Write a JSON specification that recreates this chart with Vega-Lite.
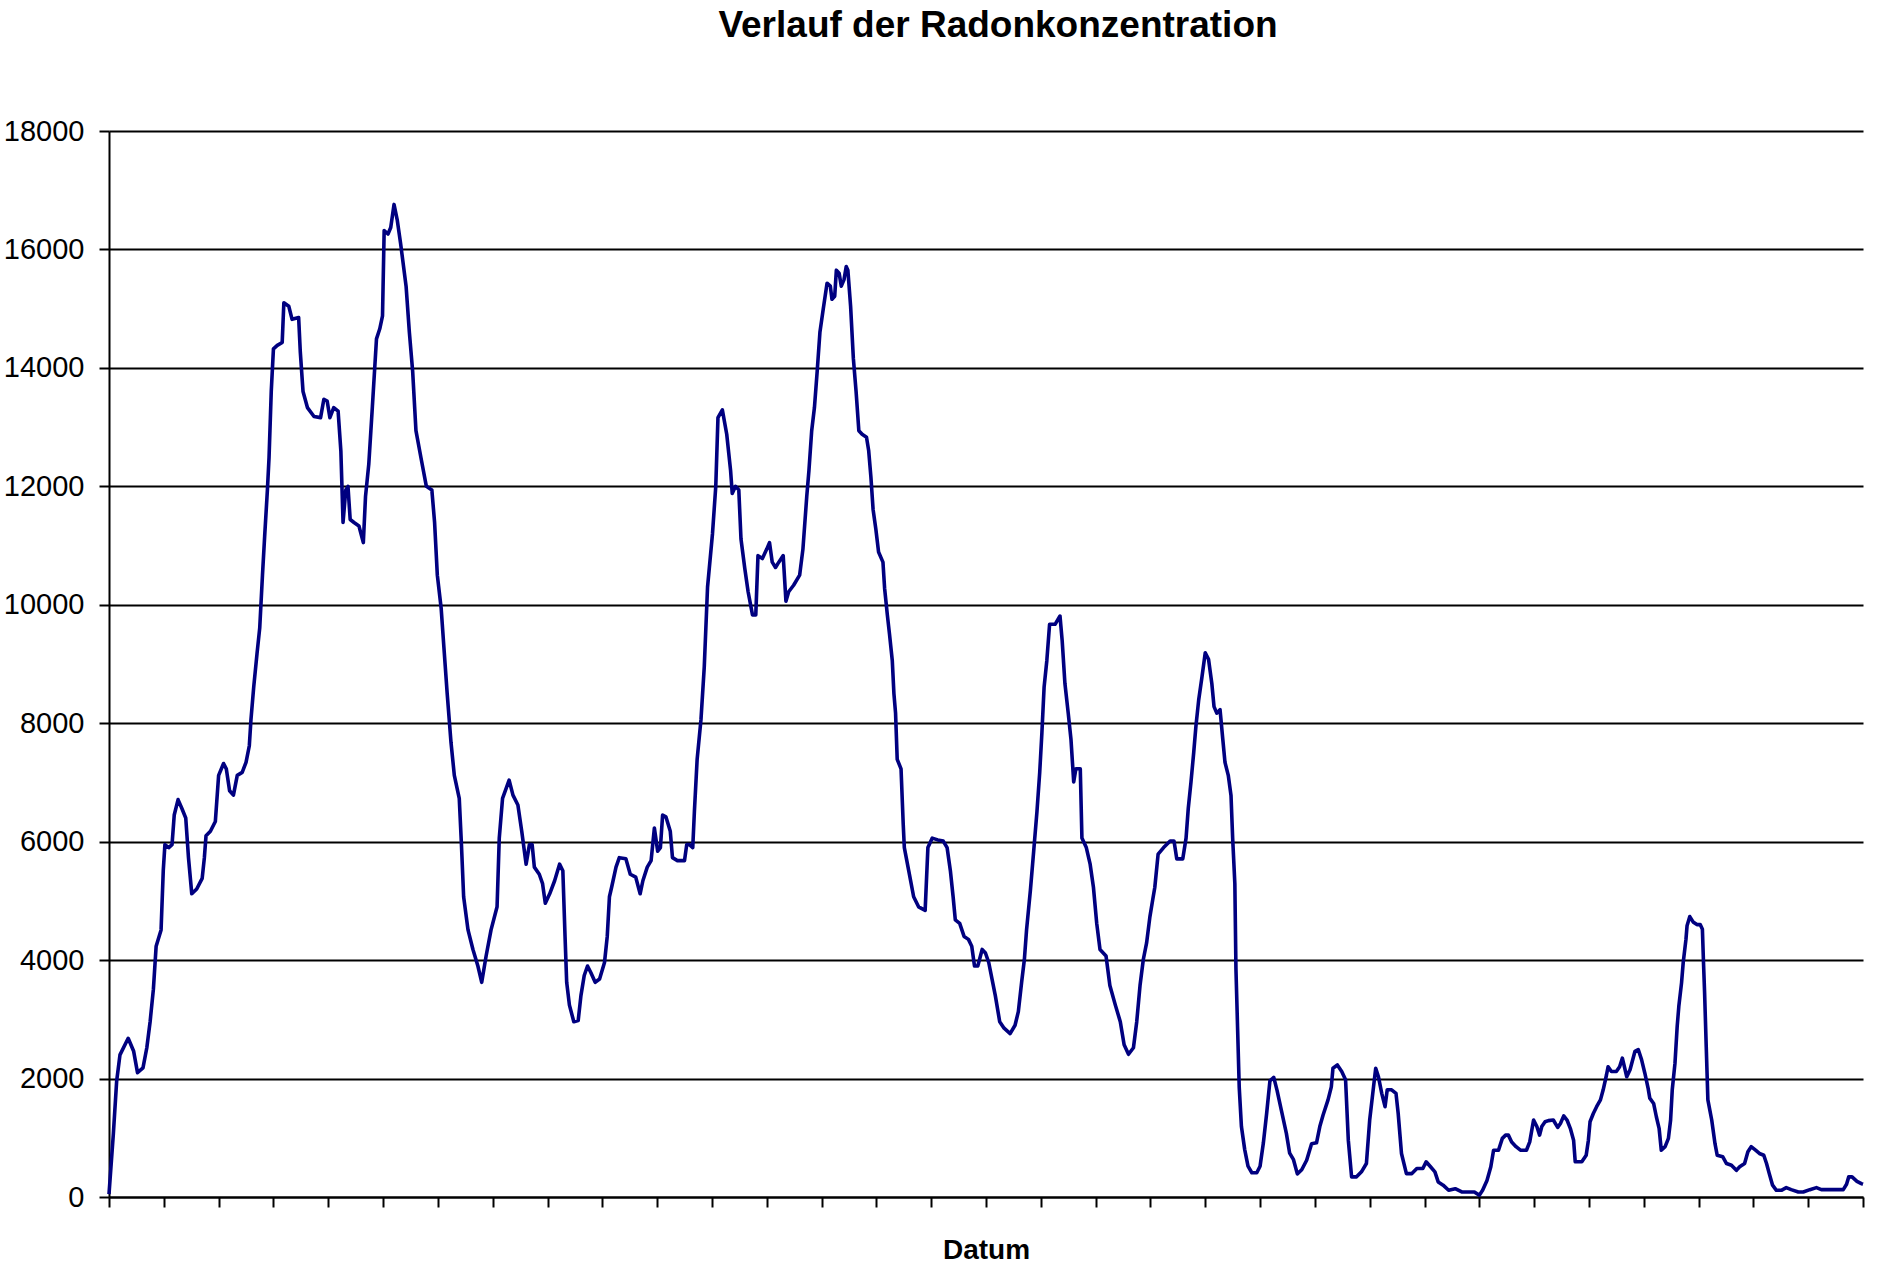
{
  "$schema": "https://vega.github.io/schema/vega-lite/v6.json",
  "width": 1754,
  "height": 1066,
  "autosize": {"type": "none"},
  "padding": {"left": 109, "top": 131, "right": 19, "bottom": 73},
  "background": "white",
  "title": {
    "text": "Verlauf der Radonkonzentration",
    "font": "Liberation Sans",
    "fontSize": 37,
    "fontWeight": "bold",
    "color": "black",
    "anchor": "middle",
    "baseline": "alphabetic",
    "offset": 43,
    "dx": 12
  },
  "config": {"view": {"stroke": null}, "font": "Liberation Sans"},
  "data": {"values": [
    {"tag": 0, "radon": 50}, {"tag": 0.08, "radon": 1075}, {"tag": 0.14, "radon": 1960}, {"tag": 0.2, "radon": 2400},
    {"tag": 0.35, "radon": 2680}, {"tag": 0.45, "radon": 2460}, {"tag": 0.52, "radon": 2100}, {"tag": 0.62, "radon": 2180},
    {"tag": 0.69, "radon": 2520}, {"tag": 0.75, "radon": 2960}, {"tag": 0.81, "radon": 3510}, {"tag": 0.86, "radon": 4235},
    {"tag": 0.95, "radon": 4510}, {"tag": 0.99, "radon": 5510}, {"tag": 1.02, "radon": 5950}, {"tag": 1.09, "radon": 5900},
    {"tag": 1.15, "radon": 5950}, {"tag": 1.19, "radon": 6450}, {"tag": 1.26, "radon": 6710}, {"tag": 1.33, "radon": 6560},
    {"tag": 1.4, "radon": 6400}, {"tag": 1.45, "radon": 5730}, {"tag": 1.51, "radon": 5120}, {"tag": 1.6, "radon": 5200},
    {"tag": 1.7, "radon": 5380}, {"tag": 1.74, "radon": 5730}, {"tag": 1.77, "radon": 6100}, {"tag": 1.85, "radon": 6175},
    {"tag": 1.94, "radon": 6340}, {"tag": 2.0, "radon": 7120}, {"tag": 2.09, "radon": 7320}, {"tag": 2.14, "radon": 7230},
    {"tag": 2.2, "radon": 6860}, {"tag": 2.27, "radon": 6785}, {"tag": 2.34, "radon": 7120}, {"tag": 2.43, "radon": 7170},
    {"tag": 2.5, "radon": 7340}, {"tag": 2.56, "radon": 7620}, {"tag": 2.59, "radon": 8060}, {"tag": 2.64, "radon": 8610},
    {"tag": 2.7, "radon": 9170}, {"tag": 2.75, "radon": 9610}, {"tag": 2.8, "radon": 10500}, {"tag": 2.84, "radon": 11160},
    {"tag": 2.89, "radon": 11940}, {"tag": 2.92, "radon": 12490}, {"tag": 2.96, "radon": 13600}, {"tag": 3.0, "radon": 14320},
    {"tag": 3.07, "radon": 14380}, {"tag": 3.16, "radon": 14430}, {"tag": 3.19, "radon": 15100}, {"tag": 3.28, "radon": 15040},
    {"tag": 3.34, "radon": 14820}, {"tag": 3.46, "radon": 14850}, {"tag": 3.49, "radon": 14270}, {"tag": 3.54, "radon": 13600},
    {"tag": 3.62, "radon": 13330}, {"tag": 3.74, "radon": 13180}, {"tag": 3.86, "radon": 13160}, {"tag": 3.92, "radon": 13470},
    {"tag": 3.98, "radon": 13440}, {"tag": 4.03, "radon": 13160}, {"tag": 4.1, "radon": 13330}, {"tag": 4.18, "radon": 13270},
    {"tag": 4.23, "radon": 12600}, {"tag": 4.27, "radon": 11390}, {"tag": 4.32, "radon": 11940}, {"tag": 4.36, "radon": 12000},
    {"tag": 4.4, "radon": 11440}, {"tag": 4.47, "radon": 11390}, {"tag": 4.56, "radon": 11330}, {"tag": 4.64, "radon": 11050},
    {"tag": 4.68, "radon": 11830}, {"tag": 4.74, "radon": 12380}, {"tag": 4.8, "radon": 13270}, {"tag": 4.88, "radon": 14490},
    {"tag": 4.94, "radon": 14660}, {"tag": 4.99, "radon": 14880}, {"tag": 5.02, "radon": 16320}, {"tag": 5.09, "radon": 16260},
    {"tag": 5.14, "radon": 16370}, {"tag": 5.2, "radon": 16760}, {"tag": 5.26, "radon": 16490}, {"tag": 5.32, "radon": 16100},
    {"tag": 5.42, "radon": 15380}, {"tag": 5.48, "radon": 14600}, {"tag": 5.54, "radon": 13940}, {"tag": 5.6, "radon": 12940},
    {"tag": 5.7, "radon": 12440}, {"tag": 5.79, "radon": 12000}, {"tag": 5.89, "radon": 11940}, {"tag": 5.94, "radon": 11390},
    {"tag": 5.99, "radon": 10500}, {"tag": 6.06, "radon": 9940}, {"tag": 6.11, "radon": 9280}, {"tag": 6.17, "radon": 8500},
    {"tag": 6.24, "radon": 7670}, {"tag": 6.3, "radon": 7120}, {"tag": 6.39, "radon": 6730}, {"tag": 6.43, "radon": 5950},
    {"tag": 6.47, "radon": 5070}, {"tag": 6.55, "radon": 4510}, {"tag": 6.64, "radon": 4180}, {"tag": 6.73, "radon": 3900},
    {"tag": 6.8, "radon": 3625}, {"tag": 6.88, "radon": 4070}, {"tag": 6.97, "radon": 4510}, {"tag": 7.08, "radon": 4900},
    {"tag": 7.12, "radon": 6060}, {"tag": 7.18, "radon": 6730}, {"tag": 7.3, "radon": 7040}, {"tag": 7.37, "radon": 6785},
    {"tag": 7.46, "radon": 6620}, {"tag": 7.53, "radon": 6175}, {"tag": 7.61, "radon": 5620}, {"tag": 7.67, "radon": 5950},
    {"tag": 7.72, "radon": 5950}, {"tag": 7.76, "radon": 5570}, {"tag": 7.85, "radon": 5450}, {"tag": 7.91, "radon": 5290},
    {"tag": 7.96, "radon": 4960}, {"tag": 8.04, "radon": 5120}, {"tag": 8.13, "radon": 5340}, {"tag": 8.22, "radon": 5620},
    {"tag": 8.28, "radon": 5510}, {"tag": 8.32, "radon": 4400}, {"tag": 8.35, "radon": 3625}, {"tag": 8.4, "radon": 3240},
    {"tag": 8.48, "radon": 2960}, {"tag": 8.56, "radon": 2980}, {"tag": 8.61, "radon": 3400}, {"tag": 8.67, "radon": 3740},
    {"tag": 8.73, "radon": 3900}, {"tag": 8.79, "radon": 3790}, {"tag": 8.87, "radon": 3625}, {"tag": 8.95, "radon": 3680},
    {"tag": 9.04, "radon": 3960}, {"tag": 9.09, "radon": 4400}, {"tag": 9.13, "radon": 5070}, {"tag": 9.17, "radon": 5230},
    {"tag": 9.25, "radon": 5570}, {"tag": 9.31, "radon": 5730}, {"tag": 9.43, "radon": 5710}, {"tag": 9.51, "radon": 5450},
    {"tag": 9.61, "radon": 5400}, {"tag": 9.69, "radon": 5120}, {"tag": 9.74, "radon": 5340}, {"tag": 9.82, "radon": 5570},
    {"tag": 9.89, "radon": 5680}, {"tag": 9.95, "radon": 6230}, {"tag": 10.01, "radon": 5840}, {"tag": 10.06, "radon": 5900},
    {"tag": 10.1, "radon": 6450}, {"tag": 10.16, "radon": 6420}, {"tag": 10.24, "radon": 6175}, {"tag": 10.28, "radon": 5730},
    {"tag": 10.37, "radon": 5680}, {"tag": 10.5, "radon": 5680}, {"tag": 10.54, "radon": 5950}, {"tag": 10.59, "radon": 5950},
    {"tag": 10.65, "radon": 5900}, {"tag": 10.68, "radon": 6510}, {"tag": 10.73, "radon": 7390}, {"tag": 10.8, "radon": 8060},
    {"tag": 10.86, "radon": 8950}, {"tag": 10.92, "radon": 10300}, {"tag": 11.01, "radon": 11200}, {"tag": 11.07, "radon": 12000},
    {"tag": 11.11, "radon": 13160}, {"tag": 11.19, "radon": 13290}, {"tag": 11.27, "radon": 12880}, {"tag": 11.34, "radon": 12270},
    {"tag": 11.37, "radon": 11880}, {"tag": 11.43, "radon": 12000}, {"tag": 11.49, "radon": 11940}, {"tag": 11.53, "radon": 11110},
    {"tag": 11.6, "radon": 10610}, {"tag": 11.66, "radon": 10220}, {"tag": 11.74, "radon": 9830}, {"tag": 11.8, "radon": 9830},
    {"tag": 11.84, "radon": 10830}, {"tag": 11.92, "radon": 10780}, {"tag": 12.0, "radon": 10940}, {"tag": 12.05, "radon": 11050},
    {"tag": 12.1, "radon": 10720}, {"tag": 12.16, "radon": 10630}, {"tag": 12.22, "radon": 10720}, {"tag": 12.3, "radon": 10830},
    {"tag": 12.35, "radon": 10060}, {"tag": 12.4, "radon": 10220}, {"tag": 12.49, "radon": 10330}, {"tag": 12.6, "radon": 10500},
    {"tag": 12.66, "radon": 10940}, {"tag": 12.73, "radon": 11830}, {"tag": 12.77, "radon": 12270}, {"tag": 12.82, "radon": 12940},
    {"tag": 12.87, "radon": 13330}, {"tag": 12.92, "radon": 13940}, {"tag": 12.97, "radon": 14600}, {"tag": 13.03, "radon": 14990},
    {"tag": 13.1, "radon": 15430}, {"tag": 13.16, "radon": 15380}, {"tag": 13.19, "radon": 15160}, {"tag": 13.24, "radon": 15210},
    {"tag": 13.27, "radon": 15650}, {"tag": 13.32, "radon": 15600}, {"tag": 13.36, "radon": 15380}, {"tag": 13.41, "radon": 15490},
    {"tag": 13.45, "radon": 15710}, {"tag": 13.48, "radon": 15650}, {"tag": 13.53, "radon": 15040}, {"tag": 13.58, "radon": 14160},
    {"tag": 13.63, "radon": 13600}, {"tag": 13.68, "radon": 12940}, {"tag": 13.74, "radon": 12880}, {"tag": 13.82, "radon": 12830},
    {"tag": 13.86, "radon": 12600}, {"tag": 13.9, "radon": 12160}, {"tag": 13.94, "radon": 11610}, {"tag": 13.99, "radon": 11280},
    {"tag": 14.04, "radon": 10890}, {"tag": 14.12, "radon": 10720}, {"tag": 14.15, "radon": 10280}, {"tag": 14.2, "radon": 9830},
    {"tag": 14.24, "radon": 9500}, {"tag": 14.29, "radon": 9060}, {"tag": 14.32, "radon": 8500}, {"tag": 14.35, "radon": 8170},
    {"tag": 14.38, "radon": 7390}, {"tag": 14.45, "radon": 7230}, {"tag": 14.49, "radon": 6290}, {"tag": 14.51, "radon": 5900},
    {"tag": 14.59, "radon": 5510}, {"tag": 14.68, "radon": 5070}, {"tag": 14.77, "radon": 4900}, {"tag": 14.89, "radon": 4840},
    {"tag": 14.94, "radon": 5900}, {"tag": 15.02, "radon": 6060}, {"tag": 15.12, "radon": 6030}, {"tag": 15.22, "radon": 6010},
    {"tag": 15.29, "radon": 5900}, {"tag": 15.35, "radon": 5510}, {"tag": 15.4, "radon": 5070}, {"tag": 15.44, "radon": 4680},
    {"tag": 15.52, "radon": 4620}, {"tag": 15.6, "radon": 4400}, {"tag": 15.68, "radon": 4350}, {"tag": 15.74, "radon": 4235},
    {"tag": 15.79, "radon": 3900}, {"tag": 15.85, "radon": 3900}, {"tag": 15.93, "radon": 4180}, {"tag": 15.99, "radon": 4120},
    {"tag": 16.05, "radon": 3960}, {"tag": 16.11, "radon": 3680}, {"tag": 16.17, "radon": 3400}, {"tag": 16.25, "radon": 2960},
    {"tag": 16.33, "radon": 2850}, {"tag": 16.44, "radon": 2760}, {"tag": 16.53, "radon": 2900}, {"tag": 16.59, "radon": 3130},
    {"tag": 16.65, "radon": 3625}, {"tag": 16.7, "radon": 4010}, {"tag": 16.74, "radon": 4510}, {"tag": 16.81, "radon": 5180},
    {"tag": 16.87, "radon": 5840}, {"tag": 16.93, "radon": 6510}, {"tag": 16.98, "radon": 7170}, {"tag": 17.02, "radon": 7840},
    {"tag": 17.06, "radon": 8610}, {"tag": 17.11, "radon": 9060}, {"tag": 17.16, "radon": 9670}, {"tag": 17.26, "radon": 9670},
    {"tag": 17.35, "radon": 9810}, {"tag": 17.39, "radon": 9390}, {"tag": 17.44, "radon": 8670}, {"tag": 17.5, "radon": 8170},
    {"tag": 17.55, "radon": 7730}, {"tag": 17.6, "radon": 7010}, {"tag": 17.64, "radon": 7230}, {"tag": 17.72, "radon": 7230},
    {"tag": 17.75, "radon": 6060}, {"tag": 17.83, "radon": 5900}, {"tag": 17.9, "radon": 5620}, {"tag": 17.96, "radon": 5230},
    {"tag": 18.02, "radon": 4620}, {"tag": 18.08, "radon": 4180}, {"tag": 18.19, "radon": 4070}, {"tag": 18.26, "radon": 3570},
    {"tag": 18.36, "radon": 3240}, {"tag": 18.45, "radon": 2960}, {"tag": 18.52, "radon": 2570}, {"tag": 18.6, "radon": 2410},
    {"tag": 18.69, "radon": 2520}, {"tag": 18.75, "radon": 2960}, {"tag": 18.81, "radon": 3570}, {"tag": 18.87, "radon": 4010},
    {"tag": 18.93, "radon": 4290}, {"tag": 18.99, "radon": 4730}, {"tag": 19.04, "radon": 5010}, {"tag": 19.08, "radon": 5230},
    {"tag": 19.14, "radon": 5790}, {"tag": 19.24, "radon": 5900}, {"tag": 19.36, "radon": 6010}, {"tag": 19.43, "radon": 6010},
    {"tag": 19.48, "radon": 5710}, {"tag": 19.59, "radon": 5710}, {"tag": 19.65, "radon": 6060}, {"tag": 19.69, "radon": 6560},
    {"tag": 19.74, "radon": 7010}, {"tag": 19.79, "radon": 7510}, {"tag": 19.83, "radon": 7950}, {"tag": 19.88, "radon": 8390},
    {"tag": 19.94, "radon": 8780}, {"tag": 20.0, "radon": 9190}, {"tag": 20.06, "radon": 9080}, {"tag": 20.12, "radon": 8670},
    {"tag": 20.16, "radon": 8280}, {"tag": 20.21, "radon": 8170}, {"tag": 20.27, "radon": 8230}, {"tag": 20.32, "radon": 7730},
    {"tag": 20.36, "radon": 7340}, {"tag": 20.42, "radon": 7120}, {"tag": 20.47, "radon": 6780}, {"tag": 20.5, "radon": 6060},
    {"tag": 20.54, "radon": 5290}, {"tag": 20.56, "radon": 3850}, {"tag": 20.59, "radon": 2850}, {"tag": 20.62, "radon": 1850},
    {"tag": 20.66, "radon": 1190}, {"tag": 20.72, "radon": 800}, {"tag": 20.78, "radon": 520}, {"tag": 20.85, "radon": 410},
    {"tag": 20.94, "radon": 410}, {"tag": 21.0, "radon": 520}, {"tag": 21.06, "radon": 910}, {"tag": 21.12, "radon": 1410},
    {"tag": 21.18, "radon": 1960}, {"tag": 21.25, "radon": 2020}, {"tag": 21.31, "radon": 1800}, {"tag": 21.39, "radon": 1460},
    {"tag": 21.48, "radon": 1075}, {"tag": 21.54, "radon": 740}, {"tag": 21.61, "radon": 630}, {"tag": 21.68, "radon": 390},
    {"tag": 21.76, "radon": 460}, {"tag": 21.85, "radon": 620}, {"tag": 21.94, "radon": 900}, {"tag": 22.03, "radon": 915},
    {"tag": 22.09, "radon": 1190}, {"tag": 22.15, "radon": 1385}, {"tag": 22.24, "radon": 1640}, {"tag": 22.3, "radon": 1860},
    {"tag": 22.33, "radon": 2175}, {"tag": 22.41, "radon": 2230}, {"tag": 22.49, "radon": 2120}, {"tag": 22.56, "radon": 1980},
    {"tag": 22.61, "radon": 960}, {"tag": 22.67, "radon": 340}, {"tag": 22.76, "radon": 340}, {"tag": 22.85, "radon": 425},
    {"tag": 22.94, "radon": 565}, {"tag": 23.0, "radon": 1300}, {"tag": 23.07, "radon": 1860}, {"tag": 23.11, "radon": 2175},
    {"tag": 23.16, "radon": 2030}, {"tag": 23.22, "radon": 1750}, {"tag": 23.28, "radon": 1525}, {"tag": 23.32, "radon": 1810},
    {"tag": 23.4, "radon": 1810}, {"tag": 23.48, "radon": 1750}, {"tag": 23.52, "radon": 1410}, {"tag": 23.58, "radon": 735},
    {"tag": 23.67, "radon": 395}, {"tag": 23.77, "radon": 395}, {"tag": 23.86, "radon": 480}, {"tag": 23.97, "radon": 480},
    {"tag": 24.03, "radon": 595}, {"tag": 24.11, "radon": 510}, {"tag": 24.19, "radon": 425}, {"tag": 24.25, "radon": 255},
    {"tag": 24.34, "radon": 200}, {"tag": 24.44, "radon": 113}, {"tag": 24.56, "radon": 140}, {"tag": 24.68, "radon": 85},
    {"tag": 24.8, "radon": 85}, {"tag": 24.91, "radon": 85}, {"tag": 25.0, "radon": 28}, {"tag": 25.06, "radon": 113},
    {"tag": 25.14, "radon": 280}, {"tag": 25.21, "radon": 510}, {"tag": 25.26, "radon": 790}, {"tag": 25.35, "radon": 790},
    {"tag": 25.42, "radon": 990}, {"tag": 25.48, "radon": 1045}, {"tag": 25.53, "radon": 1045}, {"tag": 25.59, "radon": 930},
    {"tag": 25.67, "radon": 850}, {"tag": 25.75, "radon": 790}, {"tag": 25.86, "radon": 790}, {"tag": 25.92, "radon": 930},
    {"tag": 25.99, "radon": 1300}, {"tag": 26.05, "radon": 1190}, {"tag": 26.1, "radon": 1045}, {"tag": 26.14, "radon": 1190},
    {"tag": 26.2, "radon": 1270}, {"tag": 26.26, "radon": 1290}, {"tag": 26.35, "radon": 1300}, {"tag": 26.43, "radon": 1175},
    {"tag": 26.48, "radon": 1240}, {"tag": 26.54, "radon": 1370}, {"tag": 26.6, "radon": 1300}, {"tag": 26.66, "radon": 1160},
    {"tag": 26.72, "radon": 960}, {"tag": 26.75, "radon": 595}, {"tag": 26.87, "radon": 595}, {"tag": 26.95, "radon": 705},
    {"tag": 26.99, "radon": 960}, {"tag": 27.02, "radon": 1270}, {"tag": 27.08, "radon": 1410}, {"tag": 27.14, "radon": 1525},
    {"tag": 27.21, "radon": 1640}, {"tag": 27.26, "radon": 1810}, {"tag": 27.32, "radon": 2060}, {"tag": 27.35, "radon": 2200},
    {"tag": 27.41, "radon": 2120}, {"tag": 27.5, "radon": 2120}, {"tag": 27.56, "radon": 2200}, {"tag": 27.61, "radon": 2345},
    {"tag": 27.69, "radon": 2030}, {"tag": 27.75, "radon": 2150}, {"tag": 27.84, "radon": 2460}, {"tag": 27.9, "radon": 2490},
    {"tag": 27.96, "radon": 2320}, {"tag": 28.02, "radon": 2090}, {"tag": 28.08, "radon": 1835}, {"tag": 28.11, "radon": 1670},
    {"tag": 28.18, "radon": 1580}, {"tag": 28.23, "radon": 1355}, {"tag": 28.28, "radon": 1160}, {"tag": 28.32, "radon": 790},
    {"tag": 28.39, "radon": 850}, {"tag": 28.45, "radon": 990}, {"tag": 28.49, "radon": 1300}, {"tag": 28.52, "radon": 1810},
    {"tag": 28.57, "radon": 2260}, {"tag": 28.61, "radon": 2880}, {"tag": 28.64, "radon": 3220}, {"tag": 28.69, "radon": 3620},
    {"tag": 28.72, "radon": 3960}, {"tag": 28.77, "radon": 4350}, {"tag": 28.79, "radon": 4580}, {"tag": 28.84, "radon": 4735},
    {"tag": 28.9, "radon": 4645}, {"tag": 28.97, "radon": 4600}, {"tag": 29.03, "radon": 4600}, {"tag": 29.07, "radon": 4520},
    {"tag": 29.09, "radon": 3960}, {"tag": 29.11, "radon": 3450}, {"tag": 29.14, "radon": 2540}, {"tag": 29.17, "radon": 1640},
    {"tag": 29.24, "radon": 1300}, {"tag": 29.3, "radon": 900}, {"tag": 29.34, "radon": 705}, {"tag": 29.44, "radon": 680},
    {"tag": 29.51, "radon": 565}, {"tag": 29.6, "radon": 535}, {"tag": 29.69, "radon": 450}, {"tag": 29.75, "radon": 510},
    {"tag": 29.84, "radon": 565}, {"tag": 29.9, "radon": 765}, {"tag": 29.96, "radon": 850}, {"tag": 30.04, "radon": 790},
    {"tag": 30.11, "radon": 735}, {"tag": 30.19, "radon": 705}, {"tag": 30.24, "radon": 565}, {"tag": 30.29, "radon": 395},
    {"tag": 30.35, "radon": 200}, {"tag": 30.42, "radon": 113}, {"tag": 30.51, "radon": 113}, {"tag": 30.6, "radon": 158},
    {"tag": 30.69, "radon": 124}, {"tag": 30.82, "radon": 85}, {"tag": 30.91, "radon": 85}, {"tag": 31.03, "radon": 124},
    {"tag": 31.15, "radon": 158}, {"tag": 31.24, "radon": 124}, {"tag": 31.36, "radon": 124}, {"tag": 31.51, "radon": 124},
    {"tag": 31.64, "radon": 124}, {"tag": 31.7, "radon": 215}, {"tag": 31.74, "radon": 340}, {"tag": 31.8, "radon": 340},
    {"tag": 31.89, "radon": 265}, {"tag": 31.97, "radon": 225}, {"tag": 32.0, "radon": 215}
  ]},
  "mark": {"type": "line", "color": "#000080", "strokeWidth": 3.6, "strokeJoin": "round"},
  "encoding": {
    "x": {
      "field": "tag",
      "type": "quantitative",
      "scale": {"domain": [0, 32], "nice": false, "zero": false},
      "axis": {
        "values": [0, 1, 2, 3, 4, 5, 6, 7, 8, 9, 10, 11, 12, 13, 14, 15, 16, 17, 18, 19, 20, 21, 22, 23, 24, 25, 26, 27, 28, 29, 30, 31, 32],
        "labels": false,
        "grid": false,
        "tickSize": 10,
        "tickWidth": 2,
        "tickColor": "black",
        "domainColor": "black",
        "domainWidth": 2,
        "title": "Datum",
        "titleFont": "Liberation Sans",
        "titleFontSize": 28,
        "titleFontWeight": "bold",
        "titleColor": "black",
        "titleBaseline": "alphabetic",
        "titlePadding": 50
      }
    },
    "y": {
      "field": "radon",
      "type": "quantitative",
      "scale": {"domain": [0, 18000], "nice": false},
      "axis": {
        "values": [0, 2000, 4000, 6000, 8000, 10000, 12000, 14000, 16000, 18000],
        "format": "d",
        "title": null,
        "grid": true,
        "gridColor": "black",
        "gridWidth": 2,
        "gridOpacity": 1,
        "tickSize": 10,
        "tickWidth": 2,
        "tickColor": "black",
        "domainColor": "black",
        "domainWidth": 2,
        "labelFont": "Liberation Sans",
        "labelFontSize": 29,
        "labelColor": "black",
        "labelPadding": 15
      }
    }
  }
}
